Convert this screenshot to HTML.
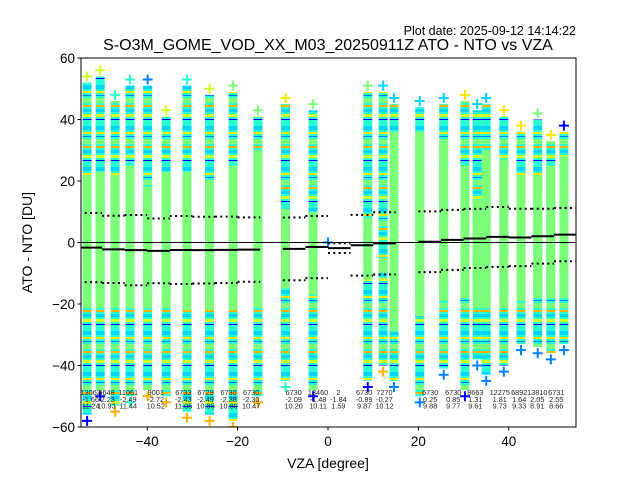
<!DOCTYPE html>
<html><head><meta charset="utf-8"><style>
body{margin:0;background:#fff}
svg{display:block;font-family:"Liberation Sans","DejaVu Sans",sans-serif}
</style></head><body>
<svg id="chart" width="640" height="480" viewBox="0 0 640 480">
<defs>
<clipPath id="plotclip"><rect x="81" y="58" width="495" height="369"/></clipPath>
<pattern id="mix" patternUnits="userSpaceOnUse" width="10" height="41">
<rect x="0" y="0" width="10" height="41" fill="#29ffce"/>
<rect x="0" y="3" width="10" height="4" fill="#00d4ff"/>
<rect x="0" y="9" width="10" height="2" fill="#ffe600"/>
<rect x="0" y="13" width="10" height="1" fill="#0080ff"/>
<rect x="0" y="16" width="10" height="5" fill="#7dff7a"/>
<rect x="0" y="23" width="10" height="2" fill="#ffb000"/>
<rect x="0" y="27" width="10" height="3" fill="#00d4ff"/>
<rect x="0" y="32" width="10" height="3" fill="#ceff29"/>
<rect x="0" y="37" width="10" height="1" fill="#0000ff"/>
</pattern>
</defs>
<text x="576" y="35" text-anchor="end" font-size="12.5">Plot date: 2025-09-12 14:14:22</text>
<text x="328" y="50" text-anchor="middle" font-size="16">S-O3M_GOME_VOD_XX_M03_20250911Z ATO - NTO vs VZA</text>
<g id="cols" clip-path="url(#plotclip)"></g>
<g id="stats" clip-path="url(#plotclip)"></g>
<g id="ann"></g>
<rect x="81" y="58" width="495" height="369" fill="none" stroke="#000" stroke-width="1"/>
<g id="axes"></g>
<text x="328" y="468" text-anchor="middle" font-size="14">VZA [degree]</text>
<text transform="translate(32,242.5) rotate(-90)" text-anchor="middle" font-size="14">ATO - NTO [DU]</text>
</svg>
<script>
// column data (VZA of orbit column, extents in DU)
const colVza   = [-53.3,-50.4,-47.1,-43.8,-39.9,-35.8,-31.2,-26.2,-21,-15.5,-9.4,-3.3,8.8,12.2,14.6,20.3,25.6,30.3,33,35,38.9,42.7,46.4,49.3,52.2];
const colTop   = [54,56,48,53,53,43,53,50,51,43,47,45,51,51,47,46,47,48,45,47,43,38,42,35,38];
const colGTop  = [22,23,22,25,18,23,23,20,25,30,11,10,8,-5,36,36,33,25,14,30,27,22,22,25,28];
const colGBot  = [-20,-20,-20,-20,-20,-20,-22,-22,-22,-20,-15,-17,-12,-10,-29,-24,-19,-18,-20,-20,-20,-19,-18,-18,-18];
const colBot   = [-58,-50,-55,-52,-50,-52,-57,-58,-60,-52,-47,-50,-47,-42,-47,-52,-43,-50,-40,-45,-42,-35,-36,-38,-35];
const topColor = ["#ceff29","#ceff29","#29ffce","#29ffce","#0080ff","#ceff29","#29ffce","#ceff29","#7dff7a","#7dff7a","#ffe600","#7dff7a","#7dff7a","#00d4ff","#00d4ff","#00d4ff","#00d4ff","#ffe600","#00d4ff","#00d4ff","#ffe600","#ffe600","#7dff7a","#ffe600","#0000ff"];
const botColor = ["#0000ff","#0000ff","#ffb000","#29ffce","#ffb000","#ffb000","#ffb000","#ffb000","#ffb000","#ffb000","#29ffce","#0000ff","#0000ff","#ffb000","#0080ff","#0080ff","#0080ff","#0000ff","#0080ff","#0080ff","#0080ff","#0080ff","#0080ff","#0080ff","#0080ff"];
// bin statistics
const binLeft = [-55,-50,-45,-40,-35,-30,-25,-20,-10,-5,0,5,10,20,25,30,35,40,45,50];
const binCount= [13062,6648,11061,9001,6733,6729,6730,6730,6730,13460,2,6730,7270,6730,6730,8663,12275,6892,13810,6731];
const binMean = [-1.66,-2.23,-2.49,-2.72,-2.43,-2.49,-2.38,-2.30,-2.09,-1.48,-1.84,-0.89,-0.27,0.25,0.85,1.31,1.81,1.64,2.05,2.55];
const binStd  = [11.24,10.93,11.44,10.52,11.05,10.85,10.80,10.47,10.20,10.11,1.59,9.87,10.12,9.88,9.77,9.61,9.73,9.33,8.91,8.66];
const binLabelX=[-52.5,-49.0,-44.2,-38.1,-32,-27.1,-22,-17,-7.6,-2.2,2.3,8.0,12.5,22.6,27.7,32.6,38,42.3,46.3,50.5];
const xTicks = [-40,-20,0,20,40];
const yTicks = [60,40,20,0,-20,-40,-60];

const NS="http://www.w3.org/2000/svg";
function xs(v){return 328+v*4.52;}
function ys(v){return 242.5-v*3.075;}
function mk(tag,attrs,parent){const e=document.createElementNS(NS,tag);for(const k in attrs)e.setAttribute(k,attrs[k]);parent.appendChild(e);return e;}

const cols=document.getElementById('cols');
function plus(x,y,c){
  const p=mk('path',{d:`M${x-5} ${y}h10M${x} ${y-5}v10`,stroke:c,'stroke-width':2,fill:'none'},cols);
  
  
}
colVza.forEach((v,i)=>{
  const x=xs(v);
  const m=mk('rect',{x:x-4.5,y:ys(colTop[i]-2),width:9,height:ys(colBot[i]+2)-ys(colTop[i]-2),fill:'url(#mix)'},cols);
  
  
  const g=mk('rect',{x:x-4.5,y:ys(colGTop[i]),width:9,height:ys(colGBot[i])-ys(colGTop[i]),fill:'#7dff7a'},cols);
  
  
  plus(x,ys(colTop[i]),topColor[i]);
  plus(x,ys(colBot[i]),botColor[i]);
});
plus(xs(0),ys(0),'#0080ff');

const stats=document.getElementById('stats');
const z=mk('line',{x1:81,x2:576,y1:ys(0),y2:ys(0),stroke:'#000','stroke-width':1},stats);


binLeft.forEach((b,i)=>{
  const x1=xs(b),x2=xs(b+5);
  const l=mk('line',{x1,x2,y1:ys(binMean[i]),y2:ys(binMean[i]),stroke:'#000','stroke-width':2},stats);
  
  
  [1,-1].forEach(s=>{
    const d=mk('line',{x1,x2,y1:ys(binMean[i]+s*binStd[i]),y2:ys(binMean[i]+s*binStd[i]),stroke:'#000','stroke-width':2,'stroke-dasharray':'2,3.3'},stats);
    
    
  });
});
const ann=document.getElementById('ann');
binLabelX.forEach((v,i)=>{
  const t=mk('text',{x:xs(v),y:395,'text-anchor':'middle','font-size':7.3,fill:'#222'},ann);
  
  
  [String(binCount[i]),binMean[i].toFixed(2),binStd[i].toFixed(2)].forEach((s,j)=>{
    const ts=mk('tspan',{x:xs(v),dy:j?6.8:0},t);ts.textContent=s;
  });
});
const axes=document.getElementById('axes');
xTicks.forEach(v=>{
  const l=mk('line',{x1:xs(v),x2:xs(v),y1:427,y2:430.5,stroke:'#000'},axes);
  
  
  const t=mk('text',{x:xs(v),y:446,'text-anchor':'middle','font-size':13.5},axes);
  t.textContent=v<0?'\u2212'+(-v):String(v);
  
  
});
yTicks.forEach(v=>{
  const l=mk('line',{x1:77.5,x2:81,y1:ys(v),y2:ys(v),stroke:'#000'},axes);
  
  
  const t=mk('text',{x:75,y:ys(v)+5,'text-anchor':'end','font-size':13.5},axes);
  t.textContent=v<0?'\u2212'+(-v):String(v);
  
  
});
</script>
</body></html>
